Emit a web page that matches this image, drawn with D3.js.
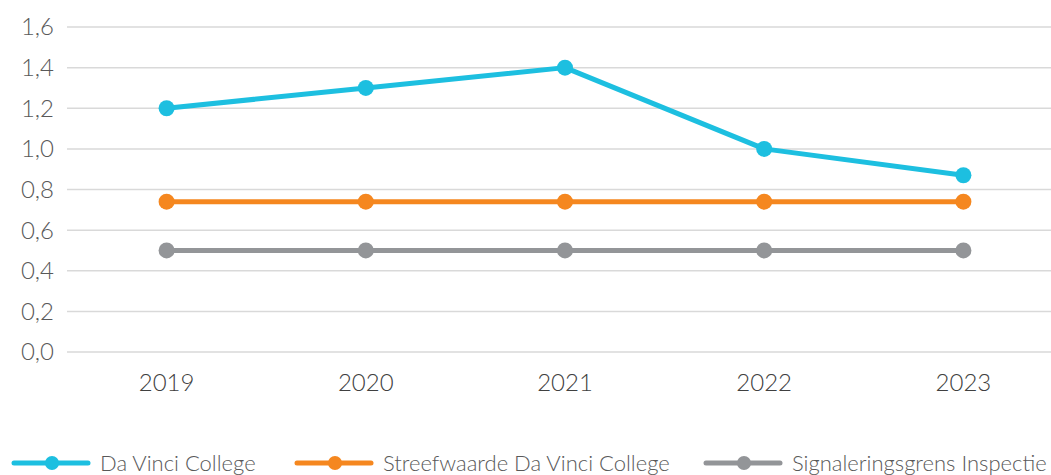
<!DOCTYPE html>
<html>
<head>
<meta charset="utf-8">
<script src="https://cdn.jsdelivr.net/npm/d3@7"></script>
<style>
  body { margin: 0; background: #fff; }
  svg { display: block; font-family: "Lato", "Open Sans", sans-serif; font-weight: 300; }
</style>
</head>
<body>
<script>
var years = ["2019", "2020", "2021", "2022", "2023"];
var davinci = [1.2, 1.3, 1.4, 1.0, 0.87];
var streef = [0.74, 0.74, 0.74, 0.74, 0.74];
var signal = [0.5, 0.5, 0.5, 0.5, 0.5];
var yTicks = [0, 0.2, 0.4, 0.6, 0.8, 1.0, 1.2, 1.4, 1.6];

var series = [
    {name: "Da Vinci College", values: davinci, color: "#1dbfe0"},
    {name: "Streefwaarde Da Vinci College", values: streef, color: "#f5871f"},
    {name: "Signaleringsgrens Inspectie", values: signal, color: "#939598"}
];

var width = 1051, height = 475;
var margin = {top: 27, right: -12, bottom: 123, left: 67};

var svg = d3.select("body").append("svg")
    .attr("width", width)
    .attr("height", height);

var x = d3.scalePoint()
    .domain(years)
    .range([margin.left, width - margin.right])
    .padding(0.5);

var y = d3.scaleLinear()
    .domain([0, 1.6])
    .range([height - margin.bottom, margin.top]);

var fmt = function(d) { return d3.format(".1f")(d).replace(".", ","); };

// gridlines
svg.append("g")
    .selectAll("line")
    .data(yTicks)
    .enter().append("line")
    .attr("x1", margin.left)
    .attr("x2", width)
    .attr("y1", function(d) { return y(d); })
    .attr("y2", function(d) { return y(d); })
    .attr("stroke", "#d9d9d9")
    .attr("stroke-width", 1.5);

// y labels
svg.append("g")
    .selectAll("text")
    .data(yTicks)
    .enter().append("text")
    .attr("x", 54)
    .attr("y", function(d) { return y(d); })
    .attr("dy", "0.35em")
    .attr("text-anchor", "end")
    .attr("font-size", 24)
    .attr("fill", "#595959")
    .text(fmt);

// x labels
svg.append("g")
    .selectAll("text")
    .data(years)
    .enter().append("text")
    .attr("x", function(d) { return x(d); })
    .attr("y", 391)
    .attr("text-anchor", "middle")
    .attr("font-size", 24)
    .attr("fill", "#404040")
    .text(function(d) { return d; });

var line = d3.line()
    .x(function(d, i) { return x(years[i]); })
    .y(function(d) { return y(d); });

series.slice().reverse().forEach(function(s) {
    svg.append("path")
        .datum(s.values)
        .attr("fill", "none")
        .attr("stroke", s.color)
        .attr("stroke-width", 5)
        .attr("stroke-linejoin", "round")
        .attr("d", line);
    svg.append("g")
        .selectAll("circle")
        .data(s.values)
        .enter().append("circle")
        .attr("cx", function(d, i) { return x(years[i]); })
        .attr("cy", function(d) { return y(d); })
        .attr("r", 8)
        .attr("fill", s.color);
});

// legend
var legendX = [14, 297, 706];
var legend = svg.append("g")
    .selectAll("g")
    .data(series)
    .enter().append("g")
    .attr("transform", function(d, i) { return "translate(" + legendX[i] + ",463)"; });

legend.append("line")
    .attr("x1", 0).attr("x2", 74)
    .attr("stroke", function(d) { return d.color; })
    .attr("stroke-width", 5)
    .attr("stroke-linecap", "round");
legend.append("circle")
    .attr("cx", 38)
    .attr("r", 7)
    .attr("fill", function(d) { return d.color; });
legend.append("text")
    .attr("x", 86)
    .attr("dy", "0.35em")
    .attr("font-size", 22)
    .attr("fill", "#595959")
    .text(function(d) { return d.name; });
</script>
</body>
</html>
